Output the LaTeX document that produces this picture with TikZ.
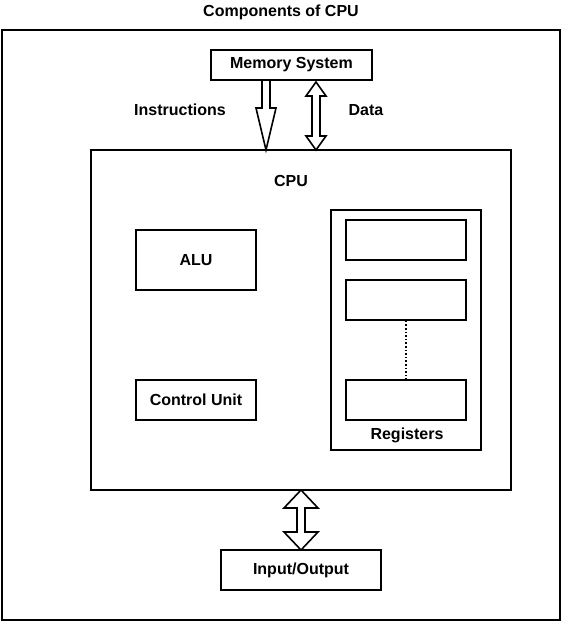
\documentclass[tikz,border=0pt]{standalone}
\usepackage{fontspec}
\setmainfont{Liberation Sans}
\usetikzlibrary{positioning}
\tikzset{lbl/.style={font=\bfseries\fontsize{16}{18}\selectfont,inner sep=0pt},
  box/.style={draw,line width=1.6pt,lbl},
  blk/.style={draw,line width=1.6pt,fill=white,line join=miter}}
\begin{document}
\begin{tikzpicture}[x=1pt,y=-1pt]
        \useasboundingbox (0,0) rectangle (562,622);
        \node[lbl] (title) at (281,12) {Components of CPU};
        \draw[line width=1.6pt] (2,30) rectangle (560,620);

        \node[box,minimum width=161,minimum height=30] (mem) at (291.5,65) {Memory System};
        \node[box,minimum width=420,minimum height=340] (cpu) at (301,320) {};
        \node[lbl] (cpulbl) at (291,181) {CPU};
        \node[box,minimum width=120,minimum height=60] (alu) at (196,260) {ALU};
        \node[box,minimum width=120,minimum height=40] (cu) at (196,400) {Control Unit};
        \node[box,minimum width=150,minimum height=240] (regs) at (406,330) {};
        \node[box,minimum width=120,minimum height=40] (r1) at (406,240) {};
        \node[box,minimum width=120,minimum height=40] (r2) at (406,300) {};
        \node[box,minimum width=120,minimum height=40] (r3) at (406,400) {};
        \node[lbl] (reglbl) at (407,435) {Registers};
        \node[box,minimum width=160,minimum height=40] (io) at (301,570) {Input/Output};
        \node[lbl] (instr) at (180,110) {Instructions};
        \node[lbl] (data) at (366,110) {Data};

        \draw[line width=1.6pt,dotted] (r2) -- (r3);

        % instructions arrow
        \draw[blk] (262,80) -- (270,80) -- (270,108) -- (276,108) -- (266,150)
          -- (256,108) -- (262,108) -- cycle;
        % data arrow
        \draw[blk] (316,82) -- (326,96) -- (320,96) -- (320,136) -- (326,136) -- (316,150)
          -- (306,136) -- (312,136) -- (312,96) -- (306,96) -- cycle;
        % i/o arrow
        \draw[blk] (301,490) -- (318,508) -- (305,508) -- (305,532) -- (318,532) -- (301,550)
          -- (284,532) -- (297,532) -- (297,508) -- (284,508) -- cycle;
\end{tikzpicture}
\end{document}
